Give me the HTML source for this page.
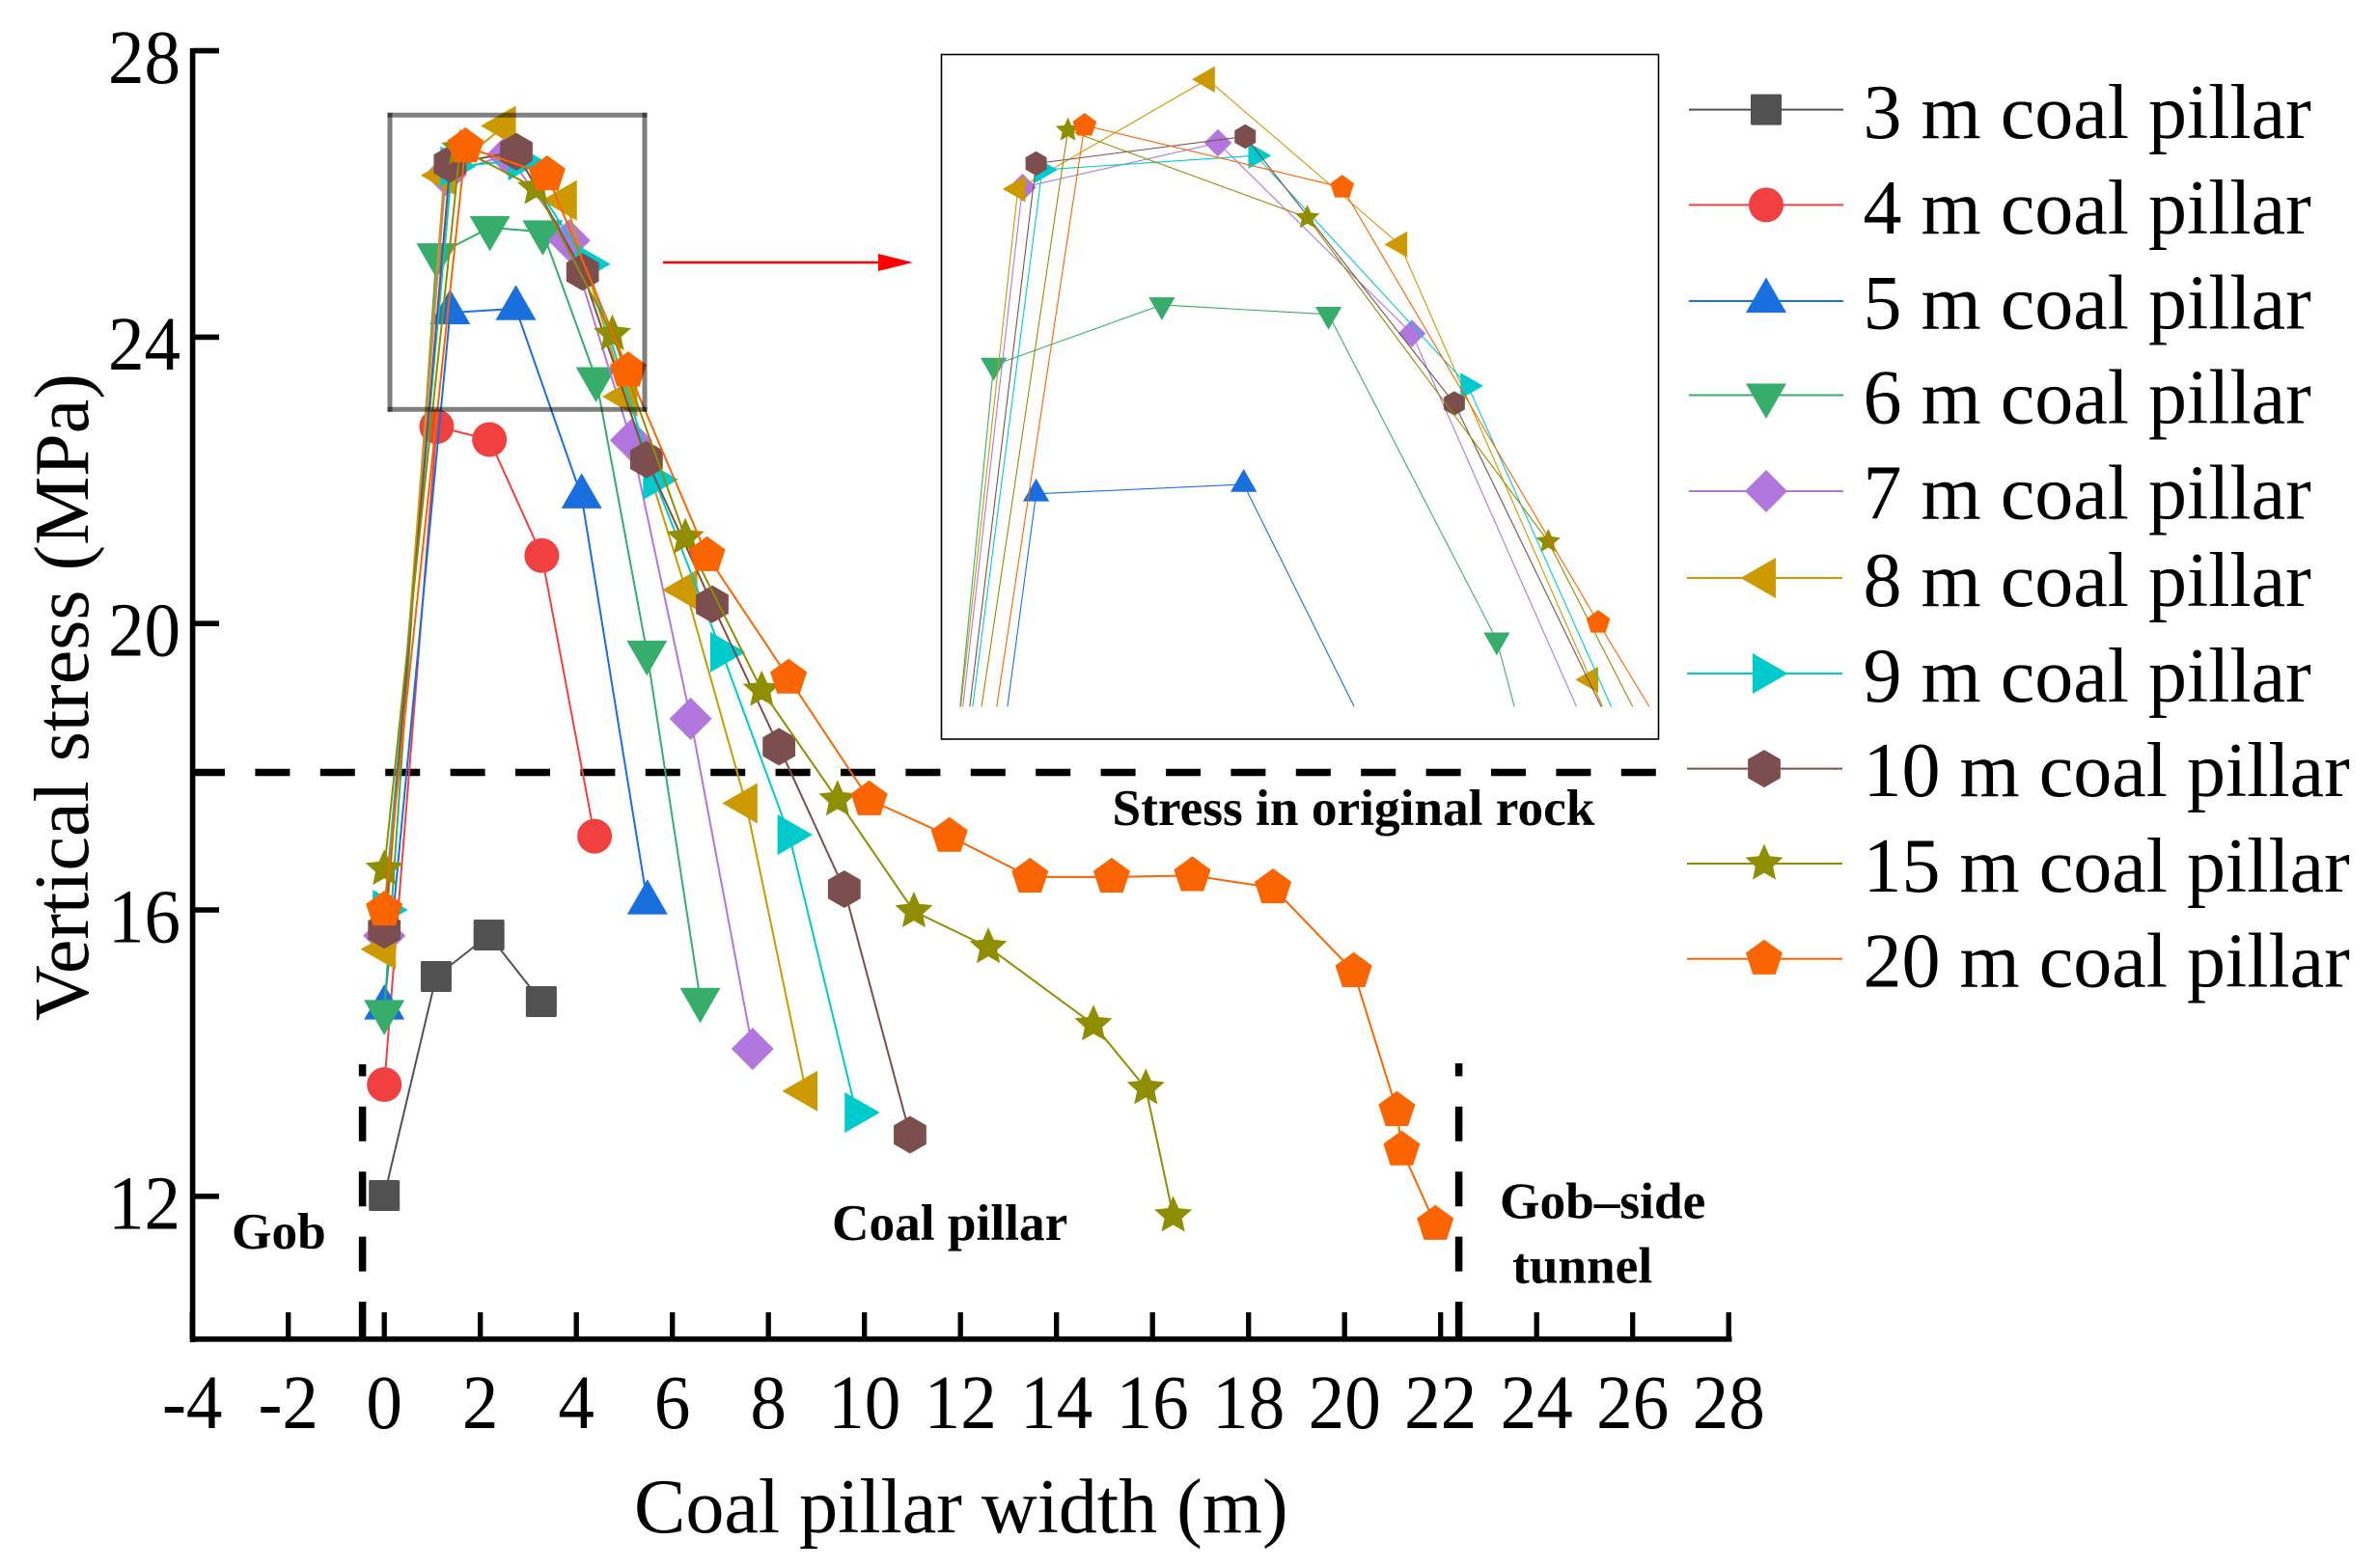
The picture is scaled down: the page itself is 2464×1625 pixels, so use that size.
<!DOCTYPE html>
<html lang="en">
<head>
<meta charset="utf-8">
<title>Vertical stress vs coal pillar width</title>
<style>
  html, body { margin: 0; padding: 0; background: #ffffff; width: 2464px; height: 1625px; overflow: hidden; }
  svg { display: block; overflow: hidden; }
  text { font-family: "Liberation Serif", serif; fill: #000; }
  .bold { font-weight: bold; font-size: 53.3px; }
  .tick { font-size: 79px; }
  .title { font-size: 80px; }
  .legend { font-size: 80px; }
</style>
</head>
<body>
<svg id="chart" xmlns="http://www.w3.org/2000/svg" width="2464" height="1625" viewBox="0 0 2464 1625">
  <rect x="0" y="0" width="2464" height="1625" fill="#ffffff"/>

  <g id="axes"></g>

  <line x1="197" y1="800.5" x2="1718" y2="800.5" stroke="#000" stroke-width="7.5" stroke-dasharray="36 31.4"/>
  <line x1="375.6" y1="1385" x2="375.6" y2="1103" stroke="#000" stroke-width="7.5" stroke-dasharray="36 31.4"/>
  <line x1="1511.6" y1="1385" x2="1511.6" y2="1102" stroke="#000" stroke-width="7.5" stroke-dasharray="36 31.4"/>

  <g id="main-series"></g>

  <g stroke="#000" stroke-opacity="0.5" stroke-width="5">
    <line x1="401.5" y1="119.3" x2="670.5" y2="119.3"/>
    <line x1="401.5" y1="424.3" x2="670.5" y2="424.3"/>
    <line x1="404" y1="116.8" x2="404" y2="426.8"/>
    <line x1="668" y1="116.8" x2="668" y2="426.8"/>
  </g>

  <g>
    <line x1="687" y1="272" x2="915" y2="272" stroke="#ff0000" stroke-width="2.4"/>
    <polygon points="910,263 946,272 910,281" fill="#ff0000"/>
  </g>

  <rect x="975.5" y="56.5" width="743" height="709.5" fill="#ffffff" stroke="#000" stroke-width="1.6"/>
  <g id="inset-series"></g>

  <text class="title" x="657" y="1588">Coal pillar width (m)</text>
  <text class="title" transform="translate(91,1058) rotate(-90)">Vertical stress (MPa)</text>

  <text class="bold" x="1152.5" y="855">Stress in original rock</text>
  <text class="bold" x="240" y="1294">Gob</text>
  <text class="bold" x="862" y="1285">Coal pillar</text>
  <text class="bold" x="1554" y="1262.5">Gob–side</text>
  <text class="bold" x="1567" y="1329.5">tunnel</text>

  <g id="legend"></g>
</svg>

<script>
const xTickLabels = [-4, -2, 0, 2, 4, 6, 8, 10, 12, 14, 16, 18, 20, 22, 24, 26, 28];
const yTickLabels = [12, 16, 20, 24, 28];

const seriesNames = ["3 m coal pillar", "4 m coal pillar", "5 m coal pillar", "6 m coal pillar", "7 m coal pillar", "8 m coal pillar", "9 m coal pillar", "10 m coal pillar", "15 m coal pillar", "20 m coal pillar"];

const width3 = [0, 1.08, 2.18, 3.27];
const stress3 = [12.01, 15.07, 15.65, 14.72];
const width4 = [0, 1.09, 2.19, 3.28, 4.38];
const stress4 = [13.56, 22.75, 22.57, 20.95, 17.03];
const width5 = [0, 1.37, 2.74, 4.11, 5.48];
const stress5 = [14.63, 24.34, 24.40, 21.77, 16.10];
const width6 = [0, 1.09, 2.2, 3.3, 4.41, 5.47, 6.58];
const stress6 = [14.58, 25.15, 25.53, 25.47, 23.42, 19.6, 14.75];
const width7 = [0, 1.28, 2.57, 3.85, 5.14, 6.38, 7.67];
const stress7 = [15.64, 26.27, 26.55, 25.35, 22.56, 18.67, 14.06];
const width8 = [0, 1.25, 2.5, 3.77, 5.03, 6.28, 7.53, 8.78];
const stress8 = [15.45, 26.26, 26.95, 25.91, 23.17, 20.47, 17.49, 13.47];
const width9 = [0, 1.41, 2.82, 4.22, 5.63, 7.03, 8.43, 9.83];
const stress9 = [16.0, 26.38, 26.47, 25.02, 22.01, 19.6, 17.05, 13.17];
const width10 = [0, 1.37, 2.75, 4.13, 5.46, 6.83, 8.22, 9.58, 10.95];
const stress10 = [15.72, 26.42, 26.59, 24.91, 22.29, 20.27, 18.28, 16.29, 12.86];
const width15 = [0, 1.58, 3.16, 4.75, 6.27, 7.86, 9.44, 11.03, 12.58, 14.77, 15.86, 16.43];
const stress15 = [16.57, 26.63, 26.08, 24.04, 21.2, 19.07, 17.54, 15.98, 15.48, 14.4, 13.51, 11.73];
const width20 = [0, 1.69, 3.39, 5.08, 6.72, 8.42, 10.1, 11.77, 13.45, 15.15, 16.83, 18.51, 20.19, 21.09, 21.19, 21.89];
const stress20 = [16.0, 26.66, 26.27, 23.53, 20.95, 19.24, 17.54, 17.03, 16.46, 16.46, 16.48, 16.31, 15.14, 13.2, 12.65, 11.61];

const allWidths = [width3, width4, width5, width6, width7, width8, width9, width10, width15, width20];
const allStresses = [stress3, stress4, stress5, stress6, stress7, stress8, stress9, stress10, stress15, stress20];

const seriesColors = ["#515151", "#F14040", "#1A6FDF", "#37AD6B", "#B177DE", "#CC9900", "#00CBCC", "#7D4E4E", "#8E8E00", "#FB6501"];
const seriesMarkers = ["square", "circle", "up", "down", "diamond", "left", "right", "hexagon", "star", "pentagon"];

const SVG_NS = "http://www.w3.org/2000/svg";
const INSET_FLOOR = 23;

function xMain(v) { return 398.2 + 49.75 * v; }
function yMain(v) { return 52.6 + (28 - v) * 74.2; }
function xInset(v) { return 858.5 + 157 * v; }
function yInset(v) { return 732.4 - (v - INSET_FLOOR) * 164.6; }

function make(tag, attrs, parent) {
  const el = document.createElementNS(SVG_NS, tag);
  for (const key in attrs) el.setAttribute(key, attrs[key]);
  parent.appendChild(el);
  return el;
}

function regularPoints(n, r, startDeg) {
  const pts = [];
  for (let i = 0; i < n; i++) {
    const a = (startDeg + i * 360 / n) * Math.PI / 180;
    pts.push([r * Math.cos(a), r * Math.sin(a)]);
  }
  return pts;
}

function starPoints(R, r) {
  const pts = [];
  for (let i = 0; i < 10; i++) {
    const rad = i % 2 === 0 ? R : r;
    const a = (-90 + i * 36) * Math.PI / 180;
    pts.push([rad * Math.cos(a), rad * Math.sin(a)]);
  }
  return pts;
}

function markerPoints(shape) {
  switch (shape) {
    case "up": return [[0, -24.5], [21, 12], [-21, 12]];
    case "down": return [[0, 24.5], [21, -12], [-21, -12]];
    case "left": return [[-24.5, 0], [12, -21], [12, 21]];
    case "right": return [[24.5, 0], [-12, -21], [-12, 21]];
    case "diamond": return [[0, -22], [22, 0], [0, 22], [-22, 0]];
    case "hexagon": return regularPoints(6, 19.5, -90);
    case "pentagon": return regularPoints(5, 20, -90);
    case "star": return starPoints(20.5, 9.6);
    default: return null;
  }
}

function drawMarker(parent, shape, color, cx, cy, s) {
  let el;
  if (shape === "square") {
    el = make("rect", { x: cx - 16 * s, y: cy - 16 * s, width: 32 * s, height: 32 * s, rx: 1.5 * s, fill: color }, parent);
  } else if (shape === "circle") {
    el = make("circle", { cx: cx, cy: cy, r: 18 * s, fill: color }, parent);
  } else {
    const pts = markerPoints(shape).map(function (p) {
      return (cx + p[0] * s).toFixed(2) + "," + (cy + p[1] * s).toFixed(2);
    }).join(" ");
    el = make("polygon", { points: pts, fill: color }, parent);
  }
  return el;
}

/* splits a series into runs that stay above the inset's lower stress limit */
function insetRuns(widths, stresses) {
  const runs = [];
  let run = [];
  for (let k = 0; k < widths.length; k++) {
    const above = stresses[k] >= INSET_FLOOR;
    if (k > 0) {
      const prevAbove = stresses[k - 1] >= INSET_FLOOR;
      if (above !== prevAbove) {
        const f = (INSET_FLOOR - stresses[k - 1]) / (stresses[k] - stresses[k - 1]);
        const wCross = widths[k - 1] + f * (widths[k] - widths[k - 1]);
        run.push([wCross, INSET_FLOOR]);
        if (prevAbove) { runs.push(run); run = []; }
      }
    }
    if (above) run.push([widths[k], stresses[k]]);
  }
  if (run.length) runs.push(run);
  return runs;
}

/* axes */
const axes = document.getElementById("axes");
const yAxisLine = make("line", { x1: 199.6, y1: 50, x2: 199.6, y2: 1391, stroke: "#000", "stroke-width": 5.6 }, axes);


const xAxisLine = make("line", { x1: 197, y1: 1387.8, x2: 1794.5, y2: 1387.8, stroke: "#000", "stroke-width": 5.6 }, axes);



xTickLabels.forEach(function (t) {
  const px = xMain(t);
  const tick = make("line", { x1: px, y1: 1388, x2: px, y2: 1360, stroke: "#000", "stroke-width": 5.3 }, axes);
  
  
  const label = make("text", { transform: "translate(" + px + ",1480) scale(0.95,1)", "text-anchor": "middle", class: "tick" }, axes);
  label.textContent = String(t);
  
  
});

yTickLabels.forEach(function (t) {
  const py = yMain(t);
  const tick = make("line", { x1: 199.6, y1: py, x2: 227, y2: py, stroke: "#000", "stroke-width": 5.6 }, axes);
  
  
  const label = make("text", { transform: "translate(187," + (py + 33.5) + ") scale(0.95,1)", "text-anchor": "end", class: "tick" }, axes);
  label.textContent = String(t);
  
  
});

/* series: main plot */
const mainGroup = document.getElementById("main-series");
seriesNames.forEach(function (name, i) {
  const widths = allWidths[i];
  const stresses = allStresses[i];
  const slug = name.split(" ")[0] + "m";
  const g = make("g", {}, mainGroup);
  
  
  const pts = widths.map(function (w, k) { return xMain(w).toFixed(2) + "," + yMain(stresses[k]).toFixed(2); }).join(" ");
  const line = make("polyline", { points: pts, fill: "none", stroke: seriesColors[i], "stroke-width": 2 }, g);
  
  
  widths.forEach(function (w, k) {
    const m = drawMarker(g, seriesMarkers[i], seriesColors[i], xMain(w), yMain(stresses[k]), 1);
    
    
  });
});

/* series: inset (only 5 m and wider reach the zoomed range) */
const insetGroup = document.getElementById("inset-series");
seriesNames.forEach(function (name, i) {
  const widths = allWidths[i];
  const stresses = allStresses[i];
  if (Math.max.apply(null, stresses) < INSET_FLOOR) return;
  const slug = name.split(" ")[0] + "m";
  const g = make("g", {}, insetGroup);
  
  
  insetRuns(widths, stresses).forEach(function (run) {
    const pts = run.map(function (p) { return xInset(p[0]).toFixed(2) + "," + yInset(p[1]).toFixed(2); }).join(" ");
    const line = make("polyline", { points: pts, fill: "none", stroke: seriesColors[i], "stroke-width": 1.1 }, g);
    
    
  });
  widths.forEach(function (w, k) {
    if (stresses[k] < INSET_FLOOR) return;
    const m = drawMarker(g, seriesMarkers[i], seriesColors[i], xInset(w), yInset(stresses[k]), 0.65);
    
    
  });
});

/* legend */
const legendGroup = document.getElementById("legend");
function legendRow(i, lineY, textY, x1, x2, mx) {
  const slug = seriesNames[i].split(" ")[0] + "m";
  const g = make("g", {}, legendGroup);
  
  
  const line = make("line", { x1: x1, y1: lineY, x2: x2, y2: lineY, stroke: seriesColors[i], "stroke-width": 2 }, g);
  
  
  const m = drawMarker(g, seriesMarkers[i], seriesColors[i], mx, lineY, 1);
  
  
  const label = make("text", { x: 1930.5, y: textY, class: "legend" }, g);
  label.textContent = seriesNames[i];
  
  
}
legendRow(0, 113.6, 143, 1750, 1910, 1830);
legendRow(1, 212.4, 242, 1750, 1910, 1830);
legendRow(2, 312, 340.5, 1750, 1910, 1830);
legendRow(3, 409.5, 438.5, 1750, 1910, 1830);
legendRow(4, 509, 537.5, 1750, 1910, 1830);
legendRow(5, 599, 628, 1748, 1909, 1828);
legendRow(6, 698, 727, 1748, 1909, 1828);
legendRow(7, 796.6, 825, 1748, 1909, 1828);
legendRow(8, 895, 924, 1748, 1909, 1828);
legendRow(9, 993.7, 1022.5, 1748, 1909, 1828);
</script>
</body>
</html>
